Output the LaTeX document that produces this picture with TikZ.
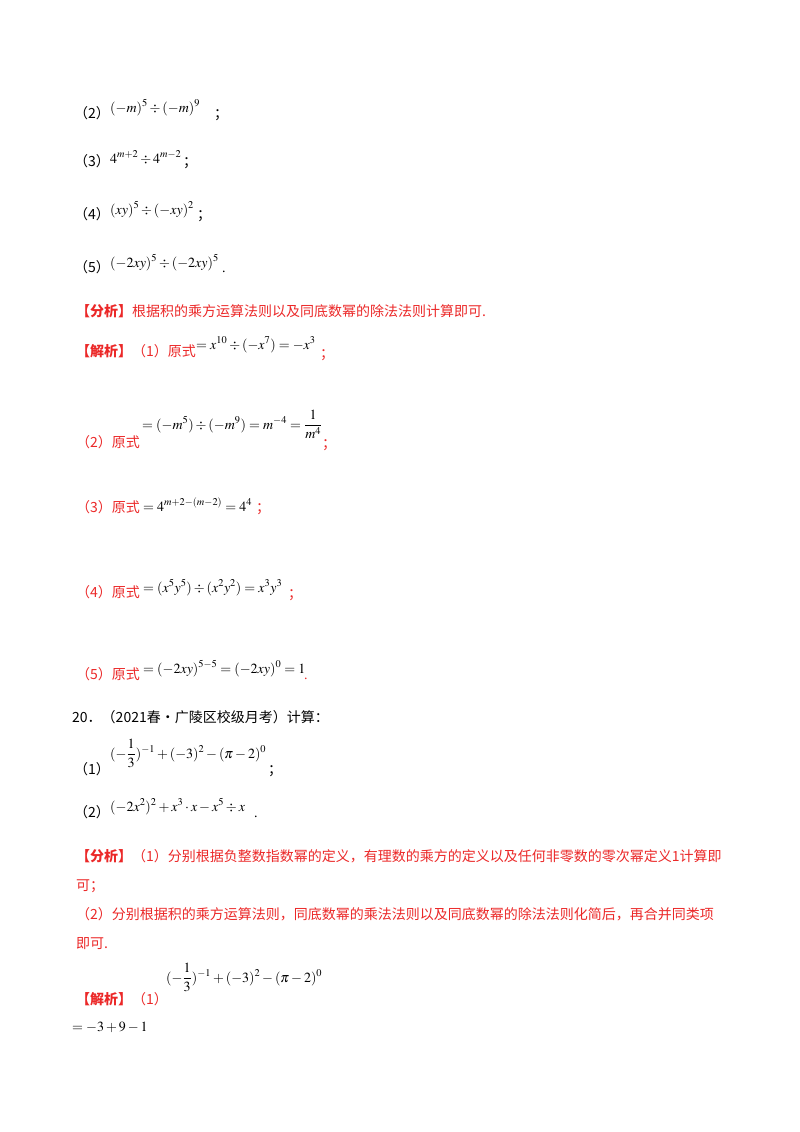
\documentclass[tikz,border=0pt]{standalone}
\usepackage{amsmath}
\usepackage{mathptmx}
\usepackage{fontspec}
\setmainfont{Liberation Serif}
\newfontfamily\cjk{Noto Sans CJK SC}
\definecolor{ansred}{RGB}{235,40,40}
\begin{document}
\begin{tikzpicture}[x=1pt,y=-1pt,
  t/.style={anchor=base west,inner sep=0pt,font=\fontsize{14}{16}\selectfont},
  m/.style={anchor=base west,inner sep=0pt,font=\fontsize{14}{16}\selectfont},
  r/.style={t,text=ansred}]
\useasboundingbox (0,0) rectangle (800,1132);
\node[t] (a2) at (74,118) {\cjk （2）};
\node[m] (f2) at (110,112) {$(-m)^5\div(-m)^9$};
\node[t] at (214,118) {\cjk ；};
\node[t] (a3) at (74,166) {\cjk （3）};
\node[m] at (110,163) {$4^{m+2}\div4^{m-2}$};
\node[t] at (183,166) {\cjk ；};
\node[t] (a4) at (74,219) {\cjk （4）};
\node[m] at (110,214) {$(xy)^5\div(-xy)^2$};
\node[t] at (197,219) {\cjk ；};
\node[t] (a5) at (74,272) {\cjk （5）};
\node[m] at (110,267) {$(-2xy)^5\div(-2xy)^5$};
\node[t] at (222,272) {.};
\node[r] at (76,316) {\cjk\bfseries 【分析】\mdseries 根据积的乘方运算法则以及同底数幂的除法法则计算即可.};
\node[r] at (76,356) {\cjk\bfseries 【解析】\mdseries （1）原式};
\node[m] at (196,349) {$=x^{10}\div(-x^7)=-x^3$};
\node[r] at (320,358) {\cjk ；};
\node[r] at (76,447) {\cjk （2）原式};
\node[m] at (142,429) {$=(-m^5)\div(-m^9)=m^{-4}=\dfrac{1}{m^4}$};
\node[r] at (322,448) {\cjk ；};
\node[r] at (76,512) {\cjk （3）原式};
\node[m] at (143,511) {$=4^{m+2-(m-2)}=4^4$};
\node[r] at (256,512) {\cjk ；};
\node[r] at (76,597) {\cjk （4）原式};
\node[m] at (143,592) {$=(x^5y^5)\div(x^2y^2)=x^3y^3$};
\node[r] at (288,598) {\cjk ；};
\node[r] at (76,679) {\cjk （5）原式};
\node[m] at (143,673) {$=(-2xy)^{5-5}=(-2xy)^0=1$};
\node[r] at (304,679) {.};
\node[t] at (72,722) {\cjk 20．（2021春•广陵区校级月考）计算：};
\node[t] at (74,774) {\cjk （1）};
\node[m] at (110,758) {$(-\dfrac{1}{3})^{-1}+(-3)^2-(\pi-2)^0$};
\node[t] at (268,774) {\cjk ；};
\node[t] at (74,817) {\cjk （2）};
\node[m] at (110,811) {$(-2x^2)^2+x^3\cdot x-x^5\div x$};
\node[t] at (254,817) {.};
\node[r] at (76,861) {\cjk\bfseries 【分析】\mdseries （1）分别根据负整数指数幂的定义，有理数的乘方的定义以及任何非零数的零次幂定义1计算即};
\node[r] at (76,890) {\cjk 可；};
\node[r] at (76,919) {\cjk （2）分别根据积的乘方运算法则，同底数幂的乘法法则以及同底数幂的除法法则化简后，再合并同类项};
\node[r] at (76,948) {\cjk 即可.};
\node[r] at (76,1004) {\cjk\bfseries 【解析】\mdseries （1）};
\node[m] at (166,982) {$(-\dfrac{1}{3})^{-1}+(-3)^2-(\pi-2)^0$};
\node[m] at (72,1031) {$=-3+9-1$};
\end{tikzpicture}
\end{document}
